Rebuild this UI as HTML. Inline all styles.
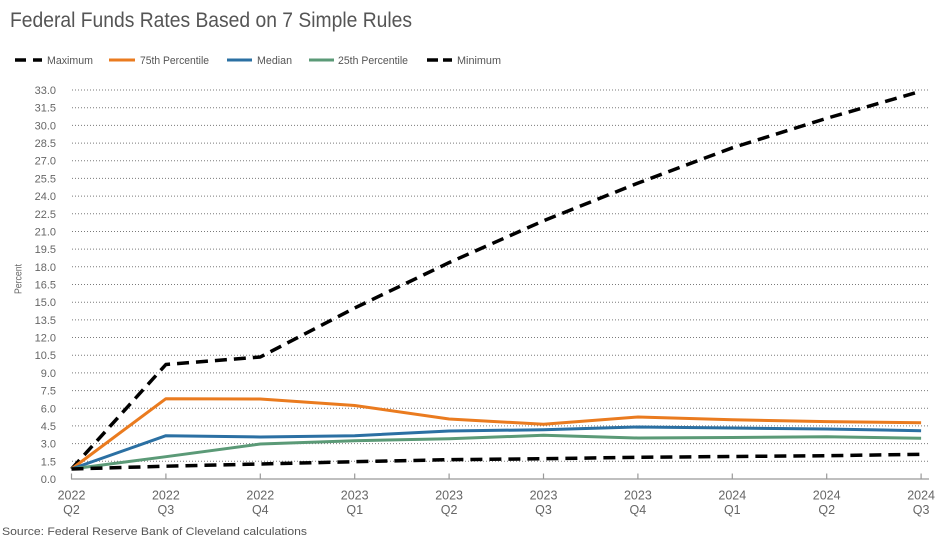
<!DOCTYPE html>
<html>
<head>
<meta charset="utf-8">
<style>
  html,body{margin:0;padding:0;background:#fff;}
  svg{display:block;font-family:"Liberation Sans",Arial,sans-serif;}
</style>
</head>
<body>
<svg width="950" height="540" viewBox="0 0 950 540" xmlns="http://www.w3.org/2000/svg">
  <rect x="0" y="0" width="950" height="540" fill="#fff"/>
  <!-- Title -->
  <text x="10" y="27" font-size="21" fill="#555" textLength="402" lengthAdjust="spacingAndGlyphs">Federal Funds Rates Based on 7 Simple Rules</text>

  <!-- Legend -->
  <g stroke-linecap="butt">
    <line x1="15" y1="60" x2="26" y2="60" stroke="#000" stroke-width="3.5"/>
    <line x1="33" y1="60" x2="42" y2="60" stroke="#000" stroke-width="3.5"/>
    <line x1="109" y1="60" x2="135" y2="60" stroke="#ea7b1f" stroke-width="3"/>
    <line x1="227" y1="60" x2="252" y2="60" stroke="#2b70a3" stroke-width="3"/>
    <line x1="309" y1="60" x2="334" y2="60" stroke="#5b9a77" stroke-width="3"/>
    <line x1="427" y1="60" x2="438" y2="60" stroke="#000" stroke-width="3.5"/>
    <line x1="443" y1="60" x2="452" y2="60" stroke="#000" stroke-width="3.5"/>
  </g>
  <g font-size="11" fill="#555">
    <text x="47" y="64" textLength="46" lengthAdjust="spacingAndGlyphs">Maximum</text>
    <text x="140" y="64" textLength="69" lengthAdjust="spacingAndGlyphs">75th Percentile</text>
    <text x="257" y="64" textLength="35" lengthAdjust="spacingAndGlyphs">Median</text>
    <text x="338" y="64" textLength="70" lengthAdjust="spacingAndGlyphs">25th Percentile</text>
    <text x="457" y="64" textLength="44" lengthAdjust="spacingAndGlyphs">Minimum</text>
  </g>

  <!-- Gridlines -->
  <g stroke="#7a7a7a" stroke-width="1" stroke-dasharray="1 2">
    <line x1="72" x2="929" y1="461.3" y2="461.3"/>
    <line x1="72" x2="929" y1="443.6" y2="443.6"/>
    <line x1="72" x2="929" y1="425.9" y2="425.9"/>
    <line x1="72" x2="929" y1="408.3" y2="408.3"/>
    <line x1="72" x2="929" y1="390.6" y2="390.6"/>
    <line x1="72" x2="929" y1="372.9" y2="372.9"/>
    <line x1="72" x2="929" y1="355.2" y2="355.2"/>
    <line x1="72" x2="929" y1="337.5" y2="337.5"/>
    <line x1="72" x2="929" y1="319.9" y2="319.9"/>
    <line x1="72" x2="929" y1="302.2" y2="302.2"/>
    <line x1="72" x2="929" y1="284.5" y2="284.5"/>
    <line x1="72" x2="929" y1="266.8" y2="266.8"/>
    <line x1="72" x2="929" y1="249.1" y2="249.1"/>
    <line x1="72" x2="929" y1="231.5" y2="231.5"/>
    <line x1="72" x2="929" y1="213.8" y2="213.8"/>
    <line x1="72" x2="929" y1="196.1" y2="196.1"/>
    <line x1="72" x2="929" y1="178.4" y2="178.4"/>
    <line x1="72" x2="929" y1="160.7" y2="160.7"/>
    <line x1="72" x2="929" y1="143.1" y2="143.1"/>
    <line x1="72" x2="929" y1="125.4" y2="125.4"/>
    <line x1="72" x2="929" y1="107.7" y2="107.7"/>
    <line x1="72" x2="929" y1="90" y2="90"/>
  </g>

  <!-- Y tick labels -->
  <g font-size="11" fill="#666" text-anchor="end">
    <text x="56" y="483">0.0</text>
    <text x="56" y="465.3">1.5</text>
    <text x="56" y="447.6">3.0</text>
    <text x="56" y="429.9">4.5</text>
    <text x="56" y="412.3">6.0</text>
    <text x="56" y="394.6">7.5</text>
    <text x="56" y="376.9">9.0</text>
    <text x="56" y="359.2">10.5</text>
    <text x="56" y="341.5">12.0</text>
    <text x="56" y="323.9">13.5</text>
    <text x="56" y="306.2">15.0</text>
    <text x="56" y="288.5">16.5</text>
    <text x="56" y="270.8">18.0</text>
    <text x="56" y="253.1">19.5</text>
    <text x="56" y="235.5">21.0</text>
    <text x="56" y="217.8">22.5</text>
    <text x="56" y="200.1">24.0</text>
    <text x="56" y="182.4">25.5</text>
    <text x="56" y="164.7">27.0</text>
    <text x="56" y="147.1">28.5</text>
    <text x="56" y="129.4">30.0</text>
    <text x="56" y="111.7">31.5</text>
    <text x="56" y="94">33.0</text>
  </g>

  <!-- Y axis title -->
  <text x="0" y="0" font-size="10.5" fill="#666" text-anchor="middle" transform="translate(21.5,279) rotate(-90)" textLength="30" lengthAdjust="spacingAndGlyphs">Percent</text>

  <!-- X axis -->
  <line x1="71" y1="479" x2="929" y2="479" stroke="#999" stroke-width="1.2"/>
  <g stroke="#999" stroke-width="1.2">
    <line x1="71.5" y1="473.5" x2="71.5" y2="479"/>
    <line x1="165.9" y1="473.5" x2="165.9" y2="479"/>
    <line x1="260.3" y1="473.5" x2="260.3" y2="479"/>
    <line x1="354.7" y1="473.5" x2="354.7" y2="479"/>
    <line x1="449.1" y1="473.5" x2="449.1" y2="479"/>
    <line x1="543.5" y1="473.5" x2="543.5" y2="479"/>
    <line x1="637.9" y1="473.5" x2="637.9" y2="479"/>
    <line x1="732.3" y1="473.5" x2="732.3" y2="479"/>
    <line x1="826.7" y1="473.5" x2="826.7" y2="479"/>
    <line x1="921.1" y1="473.5" x2="921.1" y2="479"/>
  </g>
  <g font-size="12.5" fill="#666" text-anchor="middle">
    <text x="71.5" y="499.5">2022</text><text x="71.5" y="514">Q2</text>
    <text x="165.9" y="499.5">2022</text><text x="165.9" y="514">Q3</text>
    <text x="260.3" y="499.5">2022</text><text x="260.3" y="514">Q4</text>
    <text x="354.7" y="499.5">2023</text><text x="354.7" y="514">Q1</text>
    <text x="449.1" y="499.5">2023</text><text x="449.1" y="514">Q2</text>
    <text x="543.5" y="499.5">2023</text><text x="543.5" y="514">Q3</text>
    <text x="637.9" y="499.5">2023</text><text x="637.9" y="514">Q4</text>
    <text x="732.3" y="499.5">2024</text><text x="732.3" y="514">Q1</text>
    <text x="826.7" y="499.5">2024</text><text x="826.7" y="514">Q2</text>
    <text x="921.1" y="499.5">2024</text><text x="921.1" y="514">Q3</text>
  </g>

  <!-- Series -->
  <g fill="none" stroke-linejoin="round">
    <!-- Maximum -->
    <polyline stroke="#000" stroke-width="3.5" stroke-dasharray="12 7"
      points="71.5,469 165.9,364.5 260.3,357 354.7,308 449.1,262.6 543.5,220.8 637.9,183.1 732.3,147.8 826.7,118.3 921.1,91.2"/>
    <!-- 75th -->
    <polyline stroke="#ea7b1f" stroke-width="3"
      points="71.5,469 165.9,398.7 260.3,399 354.7,405.5 449.1,419 543.5,424.3 637.9,417 732.3,419.8 826.7,421.6 921.1,422.7"/>
    <!-- Median -->
    <polyline stroke="#2b70a3" stroke-width="3"
      points="71.5,469 165.9,435.7 260.3,437 354.7,435.7 449.1,431 543.5,429.7 637.9,427 732.3,428 826.7,429 921.1,430.7"/>
    <!-- 25th -->
    <polyline stroke="#5b9a77" stroke-width="3"
      points="71.5,469 165.9,456.7 260.3,444 354.7,440.7 449.1,438.7 543.5,435.3 637.9,438 732.3,437.5 826.7,436.8 921.1,438.3"/>
    <!-- Minimum -->
    <polyline stroke="#000" stroke-width="3.5" stroke-dasharray="12 7"
      points="71.5,469 165.9,466.2 260.3,464 354.7,461.7 449.1,459.7 543.5,458.7 637.9,457.3 732.3,456.5 826.7,455.7 921.1,454.3"/>
  </g>

  <!-- Source -->
  <text x="2" y="535" font-size="11" fill="#555" textLength="305" lengthAdjust="spacingAndGlyphs">Source: Federal Reserve Bank of Cleveland calculations</text>
</svg>
</body>
</html>
